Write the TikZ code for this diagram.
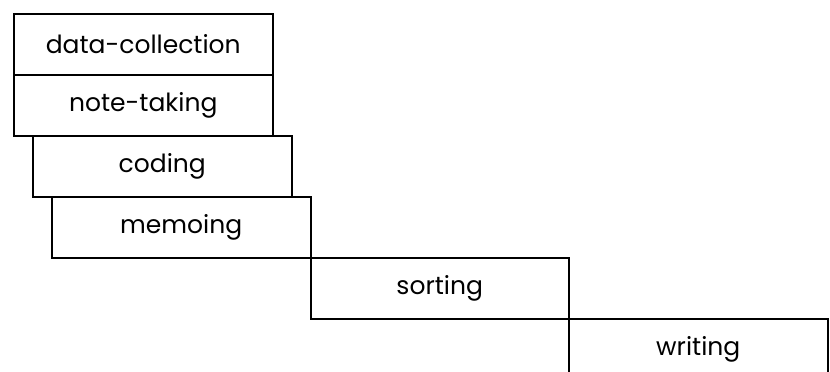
\documentclass[tikz,border=0pt]{standalone}
\usepackage{fontspec}
\setsansfont{Poppins}
\usetikzlibrary{positioning}

\begin{document}
\begin{tikzpicture}[
   stage/.style = {draw, line width=2pt, minimum width=258.5pt,
                   minimum height=61pt, inner sep=0pt, outer sep=0pt,
                   font=\sffamily\fontsize{25}{29}\selectfont}
]
   \useasboundingbox (0,0) rectangle (830pt,-372pt);
   \clip (0,0) rectangle (830pt,-372pt);

   \node[stage, anchor=north west] (collect) at (14pt,-13.5pt) {data-collection};
   \node[stage, below=0pt of collect] (notes) {note-taking};
   \node[stage, below right=0pt and 19pt of notes.south west] (coding) {coding};
   \node[stage, below right=0pt and 19pt of coding.south west] (memo) {memoing};
   \node[stage, below right=0pt and 0pt of memo.south east] (sort) {sorting};
   \node[stage, below right=0pt and 0pt of sort.south east] (write) {writing};

\end{tikzpicture}
\end{document}
